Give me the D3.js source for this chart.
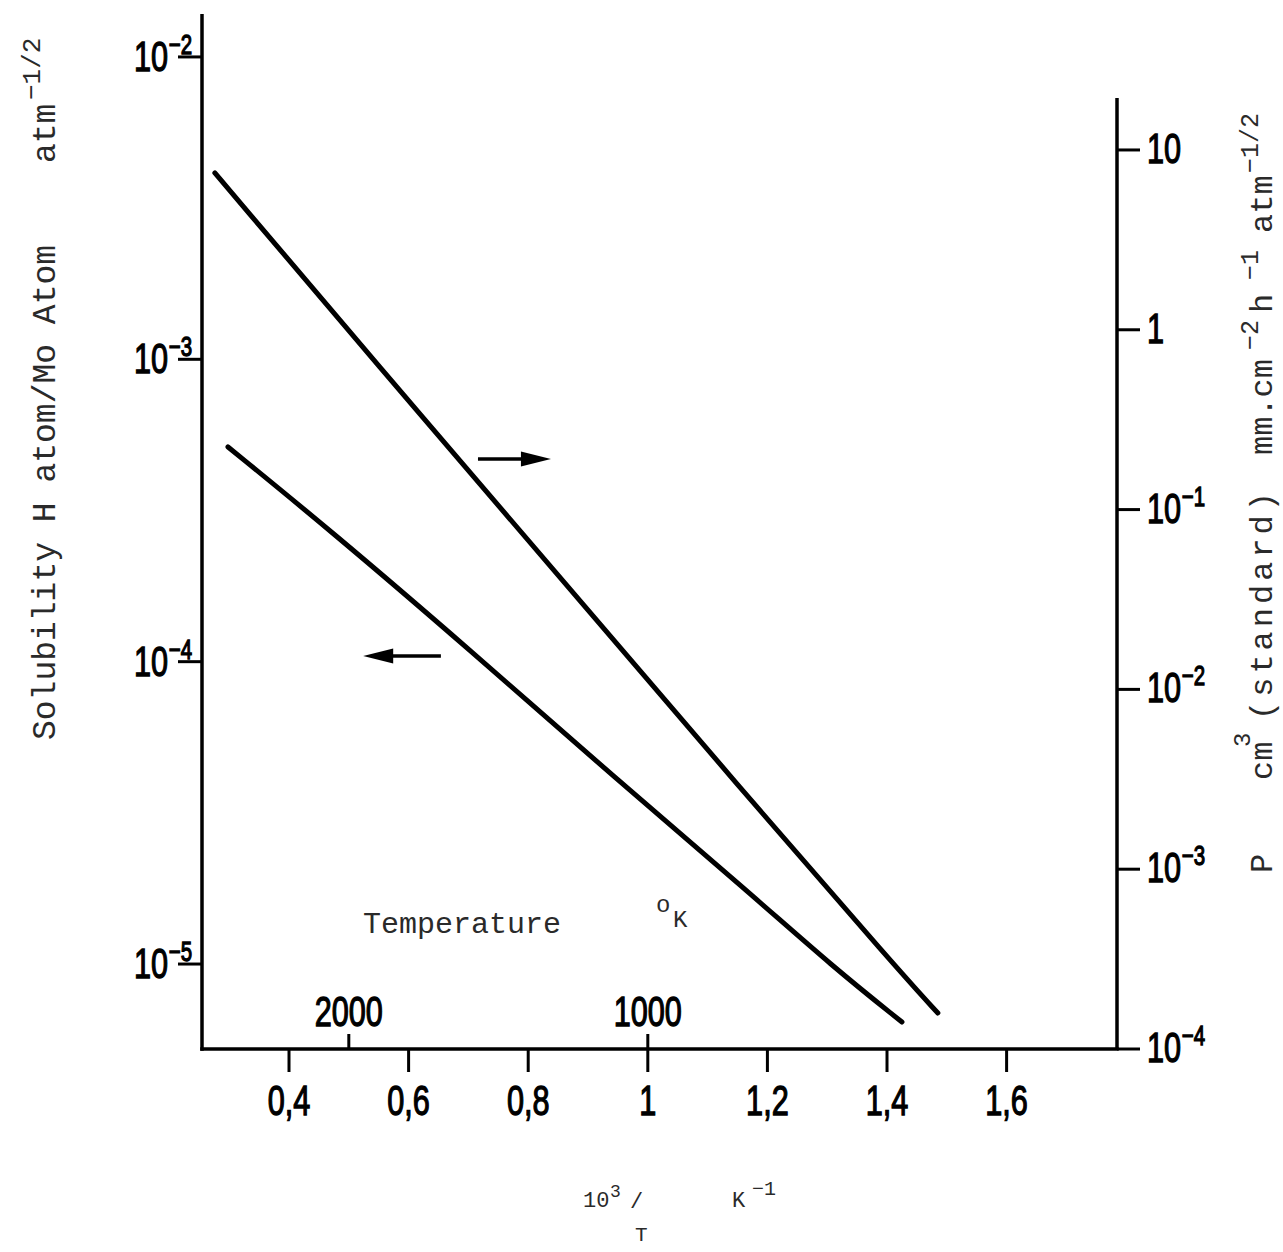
<!DOCTYPE html>
<html>
<head>
<meta charset="utf-8">
<script src="https://cdn.jsdelivr.net/npm/d3@7"></script>
<style>
  html, body { margin: 0; padding: 0; background: #fff; }
  svg { display: block; }
  .tick-label { font-family: "Liberation Sans", Arial, sans-serif; font-weight: normal; fill: #000; stroke: #000; stroke-width: 1.3px; }
  .title { font-family: "Liberation Mono", "DejaVu Sans Mono", monospace; fill: #2a2a2a; }
</style>
</head>
<body>
<svg id="chart" width="1283" height="1252"></svg>
<script>
// ---------- data ----------
const xTicks = [0.4, 0.6, 0.8, 1.0, 1.2, 1.4, 1.6];
const xTickLabels = ["0,4", "0,6", "0,8", "1", "1,2", "1,4", "1,6"];
const tempTicks = [2000, 1000];
const tempTickLabels = ["2000", "1000"];
const leftTicks = [1e-5, 1e-4, 1e-3, 1e-2];
const leftTickExp = ["\u22125", "\u22124", "\u22123", "\u22122"];
const rightTicks = [1e-4, 1e-3, 1e-2, 1e-1, 1, 10];
const rightTickBase = ["10", "10", "10", "10", "1", "10"];
const rightTickExp = ["\u22124", "\u22123", "\u22122", "\u22121", "", ""];

// permeability (right axis) vs 10^3/T
const permX = [0.276, 0.641, 0.903, 1.143, 1.422, 1.485];
const permY = [7.45, 0.277, 0.0270, 0.00313, 2.68e-4, 1.585e-4];
// solubility (left axis) vs 10^3/T
const solX = [0.298, 0.469, 0.699, 0.949, 1.166, 1.310, 1.425];
const solY = [5.13e-4, 2.72e-4, 1.11e-4, 4.06e-5, 1.75e-5, 9.77e-6, 6.43e-6];

// annotation arrows (data units)
const arrowRight = { x0: 0.716, x1: 0.838, y: 0.191 };    // right axis
const arrowLeft  = { x0: 0.654, x1: 0.524, y: 1.045e-4 }; // left axis

// ---------- layout ----------
const svg = d3.select("#chart");
const L = 202, R = 1117, B = 1049, TL = 14, TR = 98;
const SX = 0.73; // horizontal condensing of tick-label font

const x = d3.scaleLinear().domain([0.2545, 1.7846]).range([L, R]);
const yL = d3.scaleLog().domain([Math.pow(10, -5.281), Math.pow(10, -1.858)]).range([B, TL]);
const yR = d3.scaleLog().domain([1e-4, Math.pow(10, 1.289)]).range([B, TR]);

const axisW = 3.5;
const g = svg.append("g");

// axes lines
g.append("line").attr("x1", L).attr("x2", L).attr("y1", TL).attr("y2", B + axisW/2)
  .attr("stroke", "#000").attr("stroke-width", axisW);
g.append("line").attr("x1", L - axisW/2).attr("x2", R + axisW/2).attr("y1", B).attr("y2", B)
  .attr("stroke", "#000").attr("stroke-width", axisW);
g.append("line").attr("x1", R).attr("x2", R).attr("y1", TR).attr("y2", B)
  .attr("stroke", "#000").attr("stroke-width", axisW);

// bottom ticks
g.selectAll(".xt").data(xTicks).join("line")
  .attr("x1", d => x(d)).attr("x2", d => x(d)).attr("y1", B).attr("y2", B + 23)
  .attr("stroke", "#000").attr("stroke-width", 3);
g.selectAll(".xl").data(xTicks).join("text")
  .attr("class", "tick-label")
  .attr("transform", d => `translate(${x(d)},${B + 66}) scale(${SX},1)`)
  .attr("text-anchor", "middle").attr("font-size", 42)
  .text((d, i) => xTickLabels[i]);

// temperature ticks (top side of x axis)
g.selectAll(".tt").data(tempTicks).join("line")
  .attr("x1", d => x(1000 / d)).attr("x2", d => x(1000 / d)).attr("y1", B).attr("y2", B - 15)
  .attr("stroke", "#000").attr("stroke-width", 3);
g.selectAll(".tl").data(tempTicks).join("text")
  .attr("class", "tick-label")
  .attr("transform", d => `translate(${x(1000 / d)},${B - 23}) scale(${SX},1)`)
  .attr("text-anchor", "middle").attr("font-size", 42)
  .text((d, i) => tempTickLabels[i]);

// left ticks
g.selectAll(".lt").data(leftTicks).join("line")
  .attr("x1", L - 24).attr("x2", L).attr("y1", d => yL(d)).attr("y2", d => yL(d))
  .attr("stroke", "#000").attr("stroke-width", 3);
const ll = g.selectAll(".ll").data(leftTicks).join("text")
  .attr("class", "tick-label")
  .attr("transform", d => `translate(${L - 10},${yL(d) + 14}) scale(${SX},1)`)
  .attr("text-anchor", "end");
ll.append("tspan").attr("font-size", 42).text("10");
ll.append("tspan").attr("font-size", 28).attr("dy", -17).attr("dx", 1).text((d, i) => leftTickExp[i]);

// right ticks
g.selectAll(".rt").data(rightTicks).join("line")
  .attr("x1", R).attr("x2", R + 23).attr("y1", d => yR(d)).attr("y2", d => yR(d))
  .attr("stroke", "#000").attr("stroke-width", 3);
const rl = g.selectAll(".rl").data(rightTicks).join("text")
  .attr("class", "tick-label")
  .attr("transform", d => `translate(${R + 30},${yR(d) + 13}) scale(${SX},1)`)
  .attr("text-anchor", "start");
rl.append("tspan").attr("font-size", 42).text((d, i) => rightTickBase[i]);
rl.append("tspan").attr("font-size", 28).attr("dy", -17).attr("dx", 1).text((d, i) => rightTickExp[i]);

// curves
const permLine = d3.line().x(d => x(d[0])).y(d => yR(d[1])).curve(d3.curveBasis);
const solLine = d3.line().x(d => x(d[0])).y(d => yL(d[1])).curve(d3.curveBasis);
g.append("path").datum(permX.map((v, i) => [v, permY[i]]))
  .attr("d", permLine).attr("fill", "none").attr("stroke", "#000")
  .attr("stroke-width", 5).attr("stroke-linecap", "round");
g.append("path").datum(solX.map((v, i) => [v, solY[i]]))
  .attr("d", solLine).attr("fill", "none").attr("stroke", "#000")
  .attr("stroke-width", 5).attr("stroke-linecap", "round");

// arrows
function arrow(x0, x1, y) {
  const dir = Math.sign(x1 - x0);
  const headLen = 30, headHalf = 7.5;
  g.append("line").attr("x1", x0).attr("x2", x1 - dir * headLen + dir * 2).attr("y1", y).attr("y2", y)
    .attr("stroke", "#000").attr("stroke-width", 3.5);
  g.append("path")
    .attr("d", `M${x1},${y} L${x1 - dir * headLen},${y - headHalf} L${x1 - dir * headLen},${y + headHalf} Z`)
    .attr("fill", "#000");
}
arrow(x(arrowRight.x0), x(arrowRight.x1), yR(arrowRight.y));
arrow(x(arrowLeft.x0), x(arrowLeft.x1), yL(arrowLeft.y));

// ---------- titles ----------
function vtext(xp, yp, txt, size) {
  return g.append("text").attr("class", "title")
    .attr("transform", `translate(${xp},${yp}) rotate(-90)`)
    .attr("font-size", size).text(txt);
}
// left title
vtext(55, 740, "Solubility H atom/Mo Atom", 33);
vtext(55, 163, "atm", 33);
vtext(40, 100, "\u22121/2", 26);

// right title
const RB = 1272;
vtext(RB, 873, "P", 32);
vtext(RB, 780, "cm", 32);
vtext(RB - 22, 747, "3", 24);
vtext(RB, 720, "(standard)", 32).attr("textLength", 228).attr("lengthAdjust", "spacing");
vtext(RB, 455, "mm.cm", 32);
vtext(RB - 14, 350, "\u22122", 25);
vtext(RB, 313, "h", 32);
vtext(RB - 14, 280, "\u22121", 25);
vtext(RB, 233, "atm", 32);
vtext(RB - 14, 173, "\u22121/2", 25);

// temperature label
g.append("text").attr("class", "title").attr("x", 363).attr("y", 933)
  .attr("font-size", 30).text("Temperature");
g.append("text").attr("class", "title").attr("x", 656).attr("y", 912)
  .attr("font-size", 24).text("o");
g.append("text").attr("class", "title").attr("x", 673).attr("y", 927)
  .attr("font-size", 24).text("K");

// bottom title
g.append("text").attr("class", "title").attr("x", 583).attr("y", 1207)
  .attr("font-size", 22).text("10");
g.append("text").attr("class", "title").attr("x", 610).attr("y", 1197)
  .attr("font-size", 18).text("3");
g.append("text").attr("class", "title").attr("x", 630).attr("y", 1208)
  .attr("font-size", 22).text("/");
g.append("text").attr("class", "title").attr("x", 635).attr("y", 1241)
  .attr("font-size", 21).text("T");
g.append("text").attr("class", "title").attr("x", 732).attr("y", 1207)
  .attr("font-size", 22).text("K");
g.append("text").attr("class", "title").attr("x", 752).attr("y", 1195)
  .attr("font-size", 20).text("\u22121");
</script>
</body>
</html>
